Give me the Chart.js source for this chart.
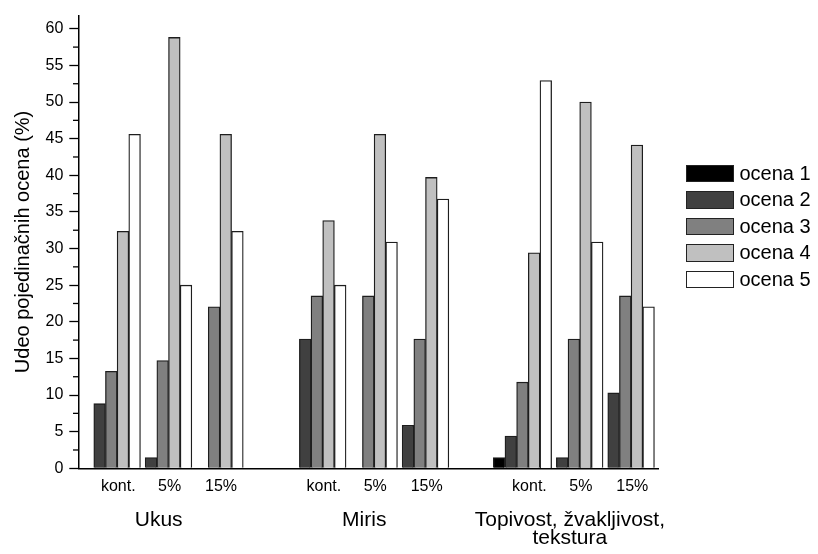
<!DOCTYPE html>
<html>
<head>
<meta charset="utf-8">
<script src="https://cdn.jsdelivr.net/npm/chart.js@4/dist/chart.umd.min.js"></script>
<style>
  html, body { margin: 0; padding: 0; background: #fff; }
  #wrap { position: relative; width: 818px; height: 554px; }
  #legend {
    position: absolute; left: 686px; top: 160px;
    font-family: "Liberation Sans", Arial, sans-serif; font-size: 20px; color: #000;
  }
  .item { display: flex; align-items: center; height: 26.5px; white-space: nowrap; }
  .swatch { width: 48px; height: 17.5px; box-sizing: border-box; border: 1.3px solid #222; margin-right: 5.5px; }
</style>
</head>
<body>
<div id="wrap">
  <canvas id="c" width="818" height="554"></canvas>
  <div id="legend"></div>
</div>
<script>
// Slots along the x axis: three samples per attribute, an empty slot between attributes
const subLabels = ['kont.', '5%', '15%', '', 'kont.', '5%', '15%', '', 'kont.', '5%', '15%'];
const groupLabels = ['', 'Ukus', '', '', '', 'Miris', '', '', '', ['Topivost, žvakljivost,', 'tekstura'], ''];
const seriesNames = ['ocena 1', 'ocena 2', 'ocena 3', 'ocena 4', 'ocena 5'];
const seriesColors = ['#000000', '#404040', '#808080', '#c0c0c0', '#ffffff'];

// Share of each grade (%), per slot; null marks the empty spacer slots
const ocena1 = [0, 0, 0, null, 0, 0, 0, null, 1.47, 0, 0];
const ocena2 = [8.82, 1.47, 0, null, 17.65, 0, 5.88, null, 4.41, 1.47, 10.29];
const ocena3 = [13.24, 14.71, 22.06, null, 23.53, 23.53, 17.65, null, 11.76, 17.65, 23.53];
const ocena4 = [32.35, 58.82, 45.59, null, 33.82, 45.59, 39.71, null, 29.41, 50.00, 44.12];
const ocena5 = [45.59, 25.00, 32.35, null, 25.00, 30.88, 36.76, null, 52.94, 30.88, 22.06];
const seriesValues = [ocena1, ocena2, ocena3, ocena4, ocena5];

const yTicks = [0, 5, 10, 15, 20, 25, 30, 35, 40, 45, 50, 55, 60];

const FONT = '"Liberation Sans", Arial, sans-serif';

const datasets = seriesNames.map((name, i) => ({
  label: name,
  data: seriesValues[i].map((v, k) => ({ x: k, y: v })),
  backgroundColor: seriesColors[i],
  borderColor: '#1e1e1e',
  borderWidth: 1.3,
  borderSkipped: 'start',
  barThickness: 11.67
}));

// Short inner ticks halfway between the labelled ones on the value axis
const minorTicks = {
  id: 'minorTicks',
  afterDraw(chart) {
    const ys = chart.scales.y;
    const ctx = chart.ctx;
    const x0 = chart.chartArea.left;
    ctx.save();
    ctx.strokeStyle = '#000';
    ctx.lineWidth = 1.3;
    for (let i = 0; i < yTicks.length - 1; i++) {
      const py = ys.getPixelForValue((yTicks[i] + yTicks[i + 1]) / 2);
      ctx.beginPath();
      ctx.moveTo(x0 - 6, py);
      ctx.lineTo(x0, py);
      ctx.stroke();
    }
    ctx.restore();
  }
};

new Chart(document.getElementById('c'), {
  type: 'bar',
  data: { datasets },
  plugins: [minorTicks],
  options: {
    responsive: false,
    animation: false,
    layout: { padding: { top: 11.7, right: 160, bottom: 0, left: 0 } },
    plugins: { legend: { display: false }, tooltip: { enabled: false } },
    scales: {
      x: {
        type: 'linear',
        position: 'bottom',
        weight: 0,
        offset: false,
        min: -0.628,
        max: 10.637,
        grid: { display: false, drawTicks: false, offset: false },
        border: { display: true, color: '#000', width: 1.5 },
        afterBuildTicks: s => { s.ticks = subLabels.map((_, k) => ({ value: k })); },
        afterFit: s => { s.height = 36; },
        ticks: {
          autoSkip: false, maxRotation: 0, minRotation: 0,
          padding: 9,
          labelOffset: 7,
          color: '#000',
          font: { family: FONT, size: 16 },
          callback: v => subLabels[v] ?? ''
        }
      },
      x2: {
        type: 'linear',
        position: 'bottom',
        weight: 1,
        offset: false,
        min: -0.628,
        max: 10.637,
        grid: { display: false, drawTicks: false, offset: false },
        border: { display: false },
        afterBuildTicks: s => {
          s.ticks = groupLabels.map((g, k) => ({ value: k })).filter(t => groupLabels[t.value] !== '');
        },
        afterFit: s => { s.height = 49.7; },
        ticks: {
          autoSkip: false, maxRotation: 0, minRotation: 0,
          padding: 6,
          labelOffset: -4,
          color: '#000',
          font: { family: FONT, size: 21, lineHeight: 0.9 },
          callback: v => groupLabels[v] ?? ''
        }
      },
      y: {
        type: 'linear',
        position: 'left',
        min: 0,
        max: 61.8,
        grid: { display: true, drawOnChartArea: false, drawTicks: true, tickLength: 9.7, tickWidth: 1.3, tickColor: '#000' },
        border: { display: true, color: '#000', width: 1.5 },
        afterBuildTicks: s => { s.ticks = yTicks.map(v => ({ value: v })); },
        afterFit: s => { s.width = 79; },
        ticks: {
          padding: 6,
          color: '#000',
          font: { family: FONT, size: 16 }
        },
        title: {
          display: true,
          text: 'Udeo pojedinačnih ocena (%)',
          color: '#000',
          font: { family: FONT, size: 20 },
          padding: { top: 11, bottom: 0 }
        }
      }
    }
  }
});

// Legend rows built from the same series definitions
const legend = document.getElementById('legend');
seriesNames.forEach((name, i) => {
  const row = document.createElement('div');
  row.className = 'item';
  const sw = document.createElement('div');
  sw.className = 'swatch';
  sw.style.background = seriesColors[i];
  const label = document.createElement('span');
  label.textContent = name;
  row.appendChild(sw);
  row.appendChild(label);
  legend.appendChild(row);
});
</script>
</body>
</html>
